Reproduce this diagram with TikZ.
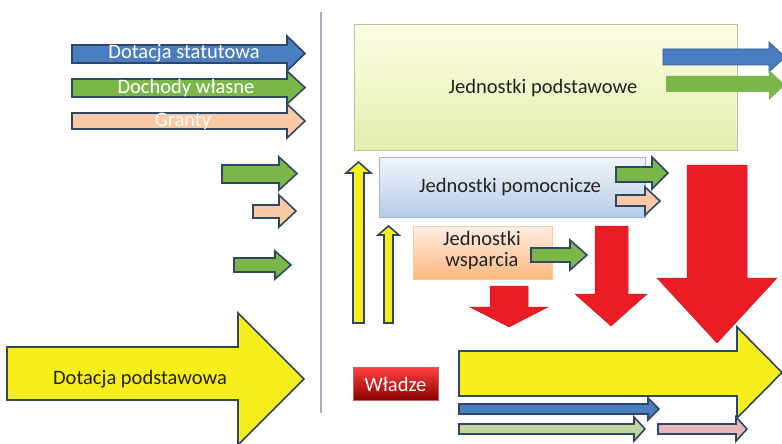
\documentclass[tikz,border=0pt]{standalone}
\usepackage{fontspec}
\setmainfont{Carlito}
\usetikzlibrary{shadings}
\definecolor{cblue}{HTML}{4A7EC0}
\definecolor{cgreen}{HTML}{7AB648}
\definecolor{cpeach}{HTML}{FAC9A6}
\definecolor{cyellow}{HTML}{F7EE1B}
\definecolor{cred}{HTML}{EC1C24}
\definecolor{cline}{HTML}{2E4766}
\definecolor{clgreen}{HTML}{C3D69B}
\definecolor{cpink}{HTML}{E8B8B8}
\definecolor{csep}{HTML}{A8B0C0}
\definecolor{ctext}{HTML}{222222}
\newcommand{\myR}[8]{\path[#8] (#1,#4) -- (#2,#4) -- (#2,#6) -- (#3,{(#6+#7)/2}) -- (#2,#7) -- (#2,#5) -- (#1,#5) -- cycle;}
\newcommand{\myV}[8]{\path[#8] (#4,#1) -- (#4,#2) -- (#6,#2) -- ({(#6+#7)/2},#3) -- (#7,#2) -- (#5,#2) -- (#5,#1) -- cycle;}
\tikzset{
  arr/.style={draw=cline, line width=1.6pt, line join=miter},
  bluearr/.style={arr, fill=cblue},
  greenarr/.style={arr, fill=cgreen},
  peacharr/.style={arr, fill=cpeach},
  yellowarr/.style={arr, fill=cyellow},
  redarr/.style={fill=cred, draw=cred!85!black, line width=0.5pt},
  lab/.style={font=\fontsize{20.5}{22}\selectfont, text=ctext, inner sep=0pt},
  wlab/.style={lab, text=white},
  boxbase/.style={draw, line width=0.8pt, inner sep=0pt, anchor=north west}
}
\begin{document}
\begin{tikzpicture}[x=1pt,y=-1pt]
\useasboundingbox (0,0) rectangle (782,444);
\begin{scope}
\clip (0,0) rectangle (782,444);
% separator
\draw[csep, line width=1.5pt] (321,12) -- (321,413);
% left arrows
\myR{72}{287}{305}{45}{63}{36}{71}{bluearr}
\node[wlab] (ds) at (184,53) {Dotacja statutowa};
\myR{72}{287}{305}{79}{97}{71}{104}{greenarr}
\node[wlab] (dw) at (186,88) {Dochody własne};
\myR{72}{287}{305}{113}{129}{104}{138}{peacharr}
\node[wlab, text=white!92!cpeach] (gr) at (183,121) {Granty};
\myR{222}{279}{297}{165}{183}{157}{190}{greenarr}
\myR{253}{279}{296}{205}{218}{195}{227}{peacharr}
\myR{234}{275}{291}{258}{272}{251}{279}{greenarr}
\myR{7}{238}{304}{347}{400}{313}{445}{yellowarr}
\node[lab] (dp) at (140,379) {Dotacja podstawowa};
% boxes
\node[boxbase, draw=clgreen!80!black!70, top color=green!4!yellow!10!white, bottom color=clgreen!75!yellow!60!white,
  minimum width=383pt, minimum height=126pt] (jp) at (354,24) {};
\node[lab] at (543,88) {Jednostki podstawowe};
\myR{663}{769}{785}{49}{65}{42}{72}{fill=cblue, draw=cblue!70!black, line width=0.8pt}
\myR{666}{769}{785}{76}{92}{70}{100}{fill=cgreen}
\node[boxbase, draw=cblue!55!white, top color=cblue!8!white, bottom color=cblue!40!white,
  minimum width=266pt, minimum height=60pt] (jpm) at (379,157) {};
\node[lab] at (510,187) {Jednostki pomocnicze};
\myR{616}{652}{668}{167}{182}{157}{189}{greenarr}
\myR{616}{645}{660}{195}{206}{187}{215}{peacharr}
\node[boxbase, draw=orange!40!white, top color=cpeach!30!white, bottom color=cpeach!75!orange,
  minimum width=139pt, minimum height=53pt] (jw) at (413,226) {};
\node[lab, align=center] at (482,251) {Jednostki\\[-1pt]wsparcia};
\myR{531}{570}{587}{248}{262}{240}{270}{greenarr}
% yellow up arrows
\myV{323}{173}{162}{353}{364}{346}{371}{yellowarr}
\myV{323}{235}{226}{384}{393}{378}{399}{yellowarr}
% red down arrows
\myV{286}{307}{327}{490}{528}{470}{548}{redarr}
\myV{226}{294}{326}{595}{628}{575}{647}{redarr}
\myV{165}{278}{343}{687}{747}{657}{777}{redarr}
% bottom
\node[boxbase, draw=red!60!black!60, top color=red!75!white, bottom color=red!55!black,
  minimum width=85pt, minimum height=33pt] (wl) at (353,367) {};
\node[wlab] at (395.5,384) {Władze};
\myR{459}{737}{782}{351}{396}{327}{418}{yellowarr}
\myR{459}{648}{659}{404}{414}{398}{420}{bluearr}
\myR{459}{634}{645}{424}{434}{417}{441}{arr, fill=clgreen}
\myR{658}{736}{747}{424}{434}{417}{441}{arr, fill=cpink}
\end{scope}
\end{tikzpicture}
\end{document}
